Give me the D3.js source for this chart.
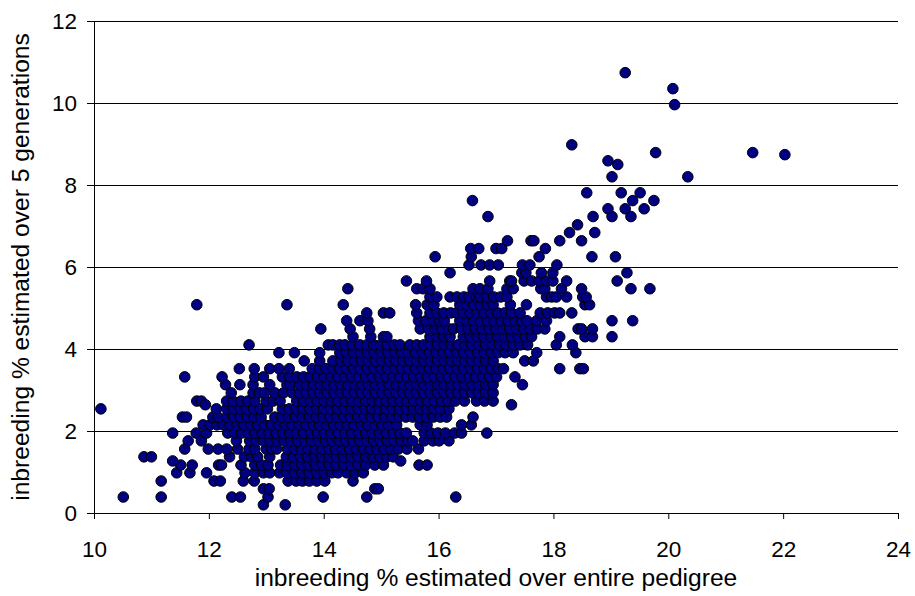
<!DOCTYPE html>
<html>
<head>
<meta charset="utf-8">
<script src="https://cdn.jsdelivr.net/npm/d3@7"></script>
<style>
  body { margin: 0; background: #fff; }
  svg text { font-family: "Liberation Sans", Arial, sans-serif; fill: #000; }
</style>
</head>
<body>
<svg id="chart" width="915" height="596"></svg>
<script>
// inbreeding over 5 generations comes in steps of ~0.195 %, so most points sit on rows
const rowY = [0.20, 0.39, 0.59, 0.78, 0.98, 1.17, 1.37, 1.56, 1.76, 1.95,
              2.15, 2.34, 2.54, 2.73, 2.93, 3.13, 3.32, 3.52, 3.71, 3.91,
              4.10, 4.30, 4.49, 4.69, 4.88, 5.08, 5.27, 5.47, 5.66, 5.86,
              6.05, 6.25, 6.45, 6.64, 6.84, 7.03, 7.23, 7.42, 7.62, 7.81];

// pedigree inbreeding (x) of the points on each row above
const rowX = [
  [12.95, 13.33],
  [10.51, 11.17, 12.40, 12.55, 13.03, 13.99, 14.75, 16.30],
  [12.95, 13.05, 14.89, 14.95],
  [11.17, 12.09, 12.20, 12.60, 12.79, 13.38, 13.52, 13.63, 13.75, 13.88, 14.02, 14.51],
  [11.44, 11.67, 11.96, 12.63, 12.80, 12.95, 13.06, 13.23, 13.36, 13.49, 13.62, 13.75, 13.88, 14.01, 14.14, 14.25, 14.40, 14.55, 14.69],
  [11.51, 11.71, 12.17, 12.22, 12.56, 12.80, 12.92, 13.03, 13.25, 13.37, 13.50, 13.62, 13.74, 13.86, 13.98, 14.10, 14.22, 14.35, 14.47, 14.60, 14.73, 14.89, 15.04, 15.66, 15.80],
  [10.87, 11.00, 12.36, 12.62, 12.74, 12.85, 13.06, 13.35, 13.47, 13.60, 13.72, 13.85, 13.97, 14.10, 14.22, 14.35, 14.48, 14.60, 14.73, 14.86, 14.98, 15.10, 15.21],
  [11.58, 11.99, 12.16, 12.31, 12.50, 12.70, 12.80, 13.00, 13.10, 13.18, 13.37, 13.49, 13.61, 13.73, 13.85, 13.97, 14.09, 14.21, 14.33, 14.45, 14.57, 14.69, 14.81, 14.93, 15.05, 15.17, 15.30, 15.45, 15.65],
  [11.64, 11.87, 12.48, 12.71, 12.83, 12.95, 13.07, 13.19, 13.31, 13.43, 13.55, 13.67, 13.79, 13.91, 14.03, 14.15, 14.27, 14.39, 14.51, 14.63, 14.75, 14.87, 14.99, 15.11, 15.23, 15.35, 15.47, 15.55, 15.75, 15.90, 16.01, 16.18],
  [11.37, 11.78, 11.96, 12.33, 12.45, 12.57, 12.69, 12.81, 12.93, 13.05, 13.17, 13.29, 13.41, 13.53, 13.65, 13.77, 13.89, 14.01, 14.13, 14.25, 14.37, 14.49, 14.61, 14.73, 14.85, 14.97, 15.09, 15.21, 15.33, 15.44, 15.75, 15.87, 15.99, 16.12, 16.28, 16.40, 16.84],
  [11.90, 12.02, 12.14, 12.25, 12.37, 12.49, 12.61, 12.73, 12.85, 12.97, 13.09, 13.21, 13.33, 13.45, 13.57, 13.69, 13.81, 13.93, 14.05, 14.17, 14.29, 14.41, 14.53, 14.65, 14.77, 14.89, 15.01, 15.13, 15.27, 15.68, 15.80, 16.40, 16.57],
  [11.54, 11.61, 12.07, 12.16, 12.31, 12.43, 12.55, 12.67, 12.79, 12.91, 13.15, 13.27, 13.39, 13.51, 13.63, 13.75, 13.87, 13.99, 14.11, 14.23, 14.35, 14.47, 14.59, 14.71, 14.83, 14.95, 15.07, 15.19, 15.31, 15.43, 15.55, 15.67, 15.79, 15.91, 16.03, 16.14, 16.60],
  [10.12, 12.13, 12.31, 12.43, 12.55, 12.66, 12.78, 12.90, 13.02, 13.28, 13.40, 13.52, 13.64, 13.76, 13.88, 14.00, 14.12, 14.24, 14.36, 14.48, 14.60, 14.72, 14.84, 14.96, 15.08, 15.20, 15.32, 15.44, 15.56, 15.68, 15.80, 15.92, 16.04, 16.18],
  [11.79, 11.87, 12.31, 12.42, 12.56, 12.68, 12.80, 13.00, 13.12, 13.24, 13.53, 13.65, 13.77, 13.89, 14.01, 14.13, 14.25, 14.37, 14.49, 14.61, 14.73, 14.85, 14.97, 15.09, 15.21, 15.33, 15.45, 15.57, 15.69, 15.81, 15.93, 16.05, 16.17, 16.29, 16.45, 16.66, 16.80, 16.95],
  [12.39, 12.77, 12.88, 12.97, 13.15, 13.30, 13.45, 13.58, 13.70, 13.82, 13.94, 14.06, 14.18, 14.30, 14.42, 14.54, 14.66, 14.78, 14.90, 15.02, 15.14, 15.26, 15.38, 15.50, 15.62, 15.74, 15.86, 15.98, 16.10, 16.22, 16.34, 16.46, 16.58, 16.70, 16.82, 16.95],
  [12.29, 12.54, 12.77, 13.06, 13.36, 13.42, 13.58, 13.70, 13.82, 13.94, 14.06, 14.18, 14.30, 14.42, 14.54, 14.66, 14.78, 14.90, 15.02, 15.14, 15.26, 15.38, 15.50, 15.62, 15.74, 15.86, 15.98, 16.10, 16.22, 16.34, 16.46, 16.58, 16.70, 16.82, 16.95, 17.46],
  [11.58, 12.23, 12.80, 12.95, 13.28, 13.41, 13.53, 13.65, 13.77, 13.89, 14.01, 14.13, 14.25, 14.37, 14.49, 14.61, 14.73, 14.85, 14.97, 15.09, 15.21, 15.33, 15.45, 15.57, 15.69, 15.81, 15.93, 16.05, 16.17, 16.29, 16.41, 16.53, 16.65, 16.77, 16.89, 17.01, 17.33],
  [12.53, 12.79, 13.06, 13.22, 13.40, 13.80, 13.92, 14.04, 14.16, 14.28, 14.40, 14.52, 14.64, 14.76, 14.88, 15.00, 15.12, 15.24, 15.36, 15.48, 15.60, 15.72, 15.84, 15.96, 16.08, 16.20, 16.32, 16.44, 16.56, 16.68, 16.80, 16.92, 17.04, 17.13, 18.11, 18.46, 18.52],
  [13.66, 13.93, 14.16, 14.30, 14.42, 14.54, 14.66, 14.78, 14.90, 15.02, 15.14, 15.26, 15.38, 15.50, 15.62, 15.74, 15.86, 15.98, 16.10, 16.22, 16.34, 16.46, 16.58, 16.70, 16.82, 16.95, 17.50, 17.65],
  [13.22, 13.49, 13.93, 14.28, 14.40, 14.52, 14.64, 14.76, 14.88, 15.00, 15.12, 15.24, 15.36, 15.48, 15.60, 15.72, 15.84, 15.96, 16.08, 16.20, 16.32, 16.44, 16.56, 16.68, 16.80, 16.92, 17.04, 17.16, 17.30, 17.71, 18.39],
  [12.70, 14.08, 14.16, 14.28, 14.37, 14.50, 14.63, 14.75, 14.87, 14.99, 15.11, 15.23, 15.33, 15.50, 15.62, 15.74, 15.86, 15.98, 16.10, 16.22, 16.34, 16.46, 16.58, 16.70, 16.82, 16.94, 17.06, 17.18, 17.30, 17.42, 17.55, 18.05, 18.33],
  [14.51, 14.82, 15.04, 15.10, 15.85, 15.97, 16.09, 16.20, 16.43, 16.55, 16.67, 16.79, 16.91, 17.03, 17.15, 17.27, 17.39, 17.51, 17.62, 18.11, 18.55, 18.68, 19.02],
  [13.95, 14.46, 14.80, 15.68, 15.82, 15.94, 16.06, 16.18, 16.26, 16.40, 16.52, 16.64, 16.76, 16.88, 17.00, 17.12, 17.24, 17.36, 17.48, 17.60, 17.72, 17.85, 18.43, 18.49, 18.68],
  [14.40, 14.63, 14.77, 15.65, 15.78, 15.90, 16.02, 16.10, 16.37, 16.49, 16.61, 16.73, 16.85, 16.97, 17.09, 17.21, 17.33, 17.45, 17.54, 17.71, 17.88, 19.02, 19.38],
  [14.75, 15.04, 15.15, 15.62, 15.85, 15.97, 16.09, 16.21, 16.31, 16.43, 16.55, 16.67, 16.79, 16.91, 17.03, 17.15, 17.27, 17.42, 17.77, 17.90, 18.02, 18.11, 18.32],
  [11.79, 13.36, 14.34, 15.60, 15.80, 15.92, 16.37, 16.49, 16.61, 16.73, 16.85, 16.95, 17.25, 17.53, 18.55, 18.63],
  [15.85, 15.97, 16.20, 16.32, 16.44, 16.53, 16.66, 16.72, 16.84, 16.96, 17.08, 17.19, 17.88, 17.97, 18.05, 18.23, 18.51, 18.57],
  [14.42, 15.62, 15.73, 15.85, 16.60, 16.72, 16.86, 17.19, 17.30, 17.78, 17.85, 18.14, 18.49, 19.35, 19.68],
  [15.44, 15.79, 16.89, 17.24, 17.27, 17.49, 17.62, 17.75, 17.88, 17.99, 18.23, 19.11],
  [16.20, 17.45, 17.52, 17.79, 17.99, 19.28],
  [16.53, 16.74, 16.89, 17.04, 17.46, 17.59, 18.06],
  [15.94, 16.57, 17.75, 18.67, 19.08],
  [16.56, 16.70, 17.00, 17.10, 17.86],
  [17.20, 17.61, 17.66, 18.11, 18.49],
  [18.28, 18.72],
  [18.42],
  [16.86, 18.69, 19.02, 19.35],
  [18.95, 19.25, 19.58],
  [16.59, 19.38, 19.75],
  [18.58, 19.18, 19.51]
];

// points off the regular rows [pedigree %, 5-generation %]
const extraPoints = [
  [11.37, 1.27], [15.34, 1.27], [11.94, 2.64], [17.27, 2.64],
  [19.02, 8.20], [20.34, 8.20], [19.12, 8.50], [18.95, 8.59],
  [19.78, 8.79], [21.47, 8.79], [22.03, 8.74], [18.32, 8.98],
  [20.11, 9.96], [20.08, 10.35], [19.25, 10.74]
];

const xTicks = [10, 12, 14, 16, 18, 20, 22, 24];
const yTicks = [0, 2, 4, 6, 8, 10, 12];

const xTitle = "inbreeding % estimated over entire pedigree";
const yTitle = "inbreeding % estimated over 5 generations";

const margin = {top: 21, right: 17, bottom: 83, left: 94};
const svg = d3.select("#chart");
const width = +svg.attr("width") - margin.left - margin.right;
const height = +svg.attr("height") - margin.top - margin.bottom;

const x = d3.scaleLinear().domain([10, 24]).range([0, width]);
const y = d3.scaleLinear().domain([0, 12]).range([height, 0]);

const g = svg.append("g")
    .attr("transform", "translate(" + margin.left + "," + margin.top + ")");

// horizontal gridlines
g.append("g")
  .selectAll("line")
  .data(yTicks.filter(d => d > 0))
  .enter().append("line")
    .attr("x1", 0)
    .attr("x2", width)
    .attr("y1", d => Math.round(y(d)) + 0.5)
    .attr("y2", d => Math.round(y(d)) + 0.5)
    .attr("stroke", "#000")
    .attr("stroke-width", 1);

// axes
const xAxis = g.append("g")
    .attr("transform", "translate(0," + height + ")")
    .call(d3.axisBottom(x).tickValues(xTicks).tickSize(6).tickSizeOuter(0).tickPadding(22));

const yAxis = g.append("g")
    .call(d3.axisLeft(y).tickValues(yTicks).tickSize(7).tickSizeOuter(0).tickPadding(10));

[xAxis, yAxis].forEach(ax => {
  ax.selectAll("path, line").attr("stroke", "#000").attr("stroke-width", 1);
  ax.selectAll("text").attr("font-size", "22.5px").attr("fill", "#000");
  ax.attr("font-family", null);
});

// points
const points = [];
rowY.forEach((v, i) => rowX[i].forEach(px => points.push([px, v])));
extraPoints.forEach(p => points.push(p));

g.append("g")
  .selectAll("circle")
  .data(points)
  .enter().append("circle")
    .attr("cx", d => x(d[0]))
    .attr("cy", d => y(d[1]))
    .attr("r", 5.3)
    .attr("fill", "#000080")
    .attr("stroke", "#000")
    .attr("stroke-width", 1);

// axis titles
svg.append("text")
    .attr("x", margin.left + width / 2)
    .attr("y", 586)
    .attr("text-anchor", "middle")
    .attr("font-size", "24.6px")
    .text(xTitle);

svg.append("text")
    .attr("transform", "translate(29," + (margin.top + height / 2) + ") rotate(-90)")
    .attr("text-anchor", "middle")
    .attr("font-size", "24.6px")
    .text(yTitle);
</script>
</body>
</html>
